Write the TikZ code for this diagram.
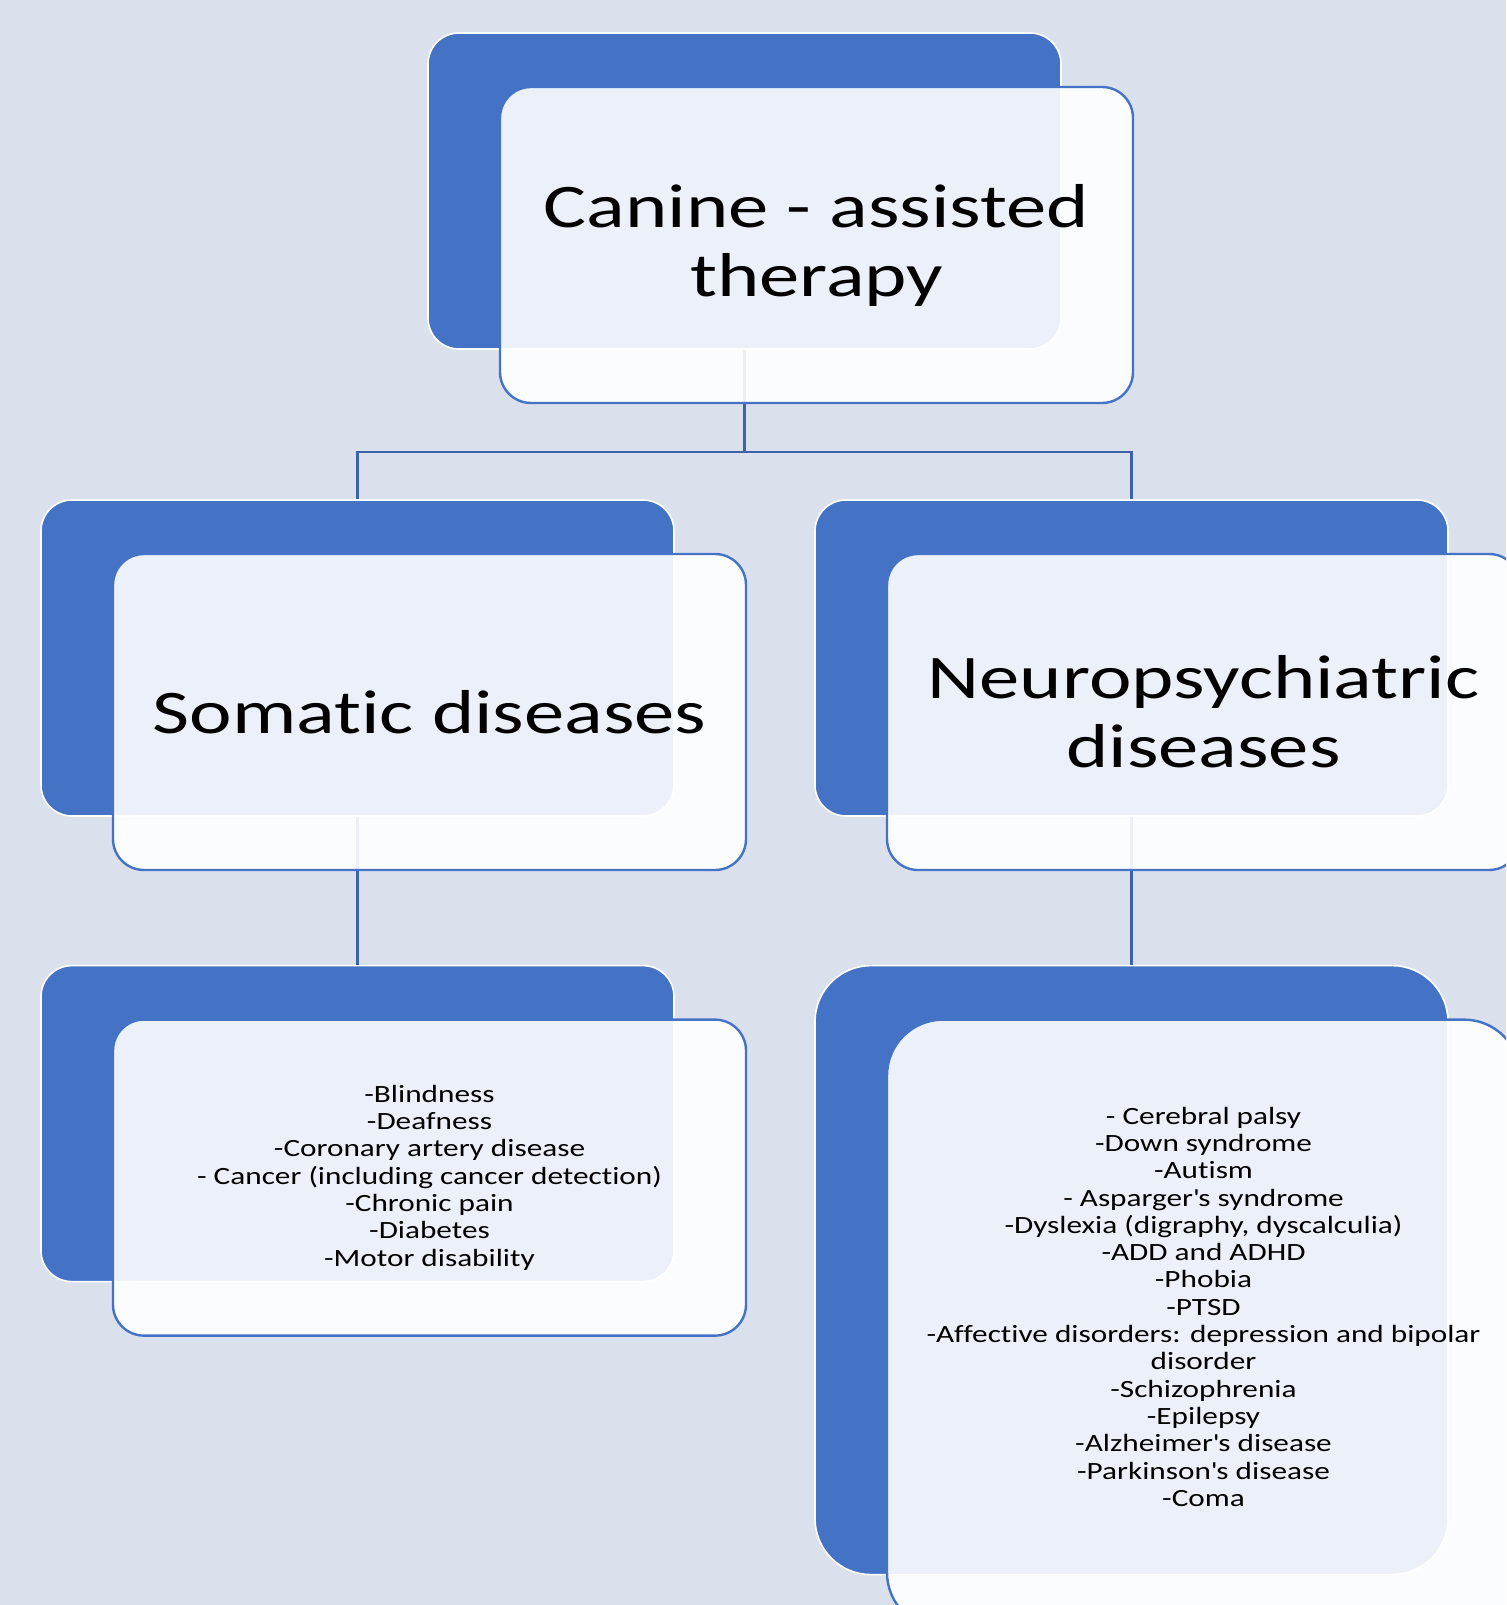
\documentclass[tikz,border=0pt]{standalone}
\usepackage{fontspec}
\setmainfont{Carlito}[FakeStretch=1.26,Ligatures=NoCommon]
\newfontfamily\headfont{Carlito}[FakeStretch=1.30,Ligatures=NoCommon]
\usepackage{tikz}
\usetikzlibrary{positioning}
\definecolor{slide}{RGB}{218,225,236}
\definecolor{accent}{RGB}{68,114,196}
\definecolor{wirecol}{RGB}{63,99,170}
\tikzstyle{back}=[draw=white,line width=0.8pt,fill=accent,rounded corners=15.5pt,
                minimum width=316.5pt,minimum height=158pt,inner sep=0]
\tikzstyle{front}=[draw=accent,line width=1.2pt,fill=white,fill opacity=0.9,
                text opacity=1,rounded corners=15.5pt,minimum width=316.5pt,
                minimum height=158pt,inner sep=0,align=center,xshift=36pt,yshift=-27pt]
\tikzstyle{tall}=[minimum height=304.5pt,rounded corners=28pt]
\tikzstyle{head}=[font=\headfont\fontsize{31}{34.5}\selectfont]
\tikzstyle{list}=[font=\fontsize{12.4}{13.65}\selectfont]
\tikzstyle{wire}=[draw=wirecol,line width=1.4pt]

\begin{document}
\begin{tikzpicture}[x=0.5pt,y=-0.5pt,node distance=74pt]
\path[use as bounding box,fill=slide] (0,0) rectangle (1506,1605);
\clip (0,0) rectangle (1506,1605);

% back plates
\node[back] (topb) at (744.5,191) {};
\node[back] (lb2) at (357.5,658) {};
\node[back] (rb2) at (1131.5,658) {};
\node[back,below=of lb2] (lb3) {};
\node[back,tall,below=of rb2] (rb3) {};

% tree lines
\coordinate (hub) at (744.5,452);
\draw[wire] (topb.south) -- (hub) -| (lb2.north);
\draw[wire] (hub) -| (rb2.north);
\draw[wire] (lb2.south) -- (lb3.north);
\draw[wire] (rb2.south) -- (rb3.north);

% front plates
\node[front,head] (topf) at (topb) {Canine - assisted\\therapy};
\node[front,head] (lf2) at (lb2) {Somatic diseases};
\node[front,head] (rf2) at (rb2) {Neuropsychiatric\\diseases};
\node[front,list] (lf3) at (lb3) {-Blindness\\-Deafness\\-Coronary artery disease\\
  - Cancer (including cancer detection)\\-Chronic pain\\-Diabetes\\-Motor disability};
\node[front,tall] (rf3) at (rb3) {};
\node[list,align=center,xshift=36pt,yshift=-18.3pt] (rf3txt) at (rb3) {- Cerebral palsy\\
  -Down syndrome\\-Autism\\- Asparger\textquotesingle s syndrome\\
  -Dyslexia (digraphy, dyscalculia)\\-ADD and ADHD\\-Phobia\\-PTSD\\
  -Affective disorders: depression and bipolar\\disorder\\-Schizophrenia\\-Epilepsy\\
  -Alzheimer\textquotesingle s disease\\-Parkinson\textquotesingle s disease\\-Coma};
\end{tikzpicture}
\end{document}
